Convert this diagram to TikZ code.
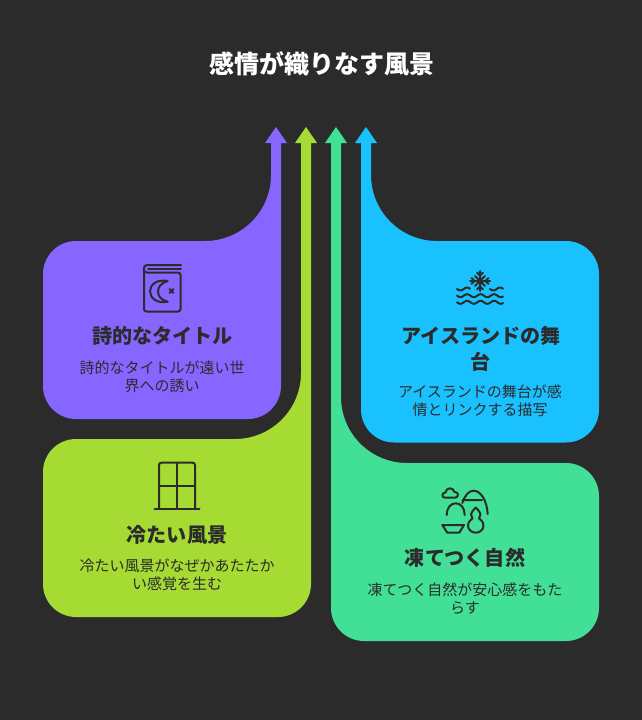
\documentclass[tikz,border=0pt]{standalone}
\usepackage{fontspec}
\usepackage{xcolor}
\setmainfont{Noto Sans CJK JP}
\definecolor{fond}{HTML}{2B2B2B}
\definecolor{violet}{HTML}{8766FF}
\definecolor{citron}{HTML}{A6DB34}
\definecolor{menthe}{HTML}{42E096}
\definecolor{ciel}{HTML}{1AC1FF}
\begin{document}
\begin{tikzpicture}[x=1pt,y=-1pt]
% Styles
\tikzstyle{titre}=[text=white,font=\fontsize{25}{29}\selectfont\bfseries]
\tikzstyle{rubrique}=[text=fond,align=center,inner sep=0pt,font=\fontsize{20.1}{26}\selectfont\bfseries]
\tikzstyle{legende}=[text=fond,align=center,inner sep=0pt,font=\fontsize{15}{18}\selectfont]
\tikzstyle{picto}=[draw=fond,line width=2pt,line cap=round,line join=round]
% Dimensions
\def\Coin{33pt}
\def\Courbe{66pt}
% Fond
\fill[fond] (0,0) rectangle (642,720);
\useasboundingbox (0,0) rectangle (642,720);
% Formes
\fill[violet] (276,127) -- (287,143) -- (281,143) [rounded corners=\Coin] -- (281,419) -- (43,419) -- (43,241) [rounded corners=\Courbe] -- (271,241) [sharp corners] -- (271,143) -- (265,143) -- cycle;
\fill[citron] (306,127) -- (317,143) -- (311,143) [rounded corners=\Coin] -- (311,617) -- (43,617) -- (43,439) [rounded corners=\Courbe] -- (301,439) [sharp corners] -- (301,143) -- (295,143) -- cycle;
\fill[menthe] (336,127) -- (347,143) -- (341,143) [rounded corners=\Courbe] -- (341,463) [rounded corners=\Coin] -- (599,463) -- (599,641) -- (331,641) [sharp corners] -- (331,143) -- (325,143) -- cycle;
\fill[ciel] (366,127) -- (377,143) -- (371,143) [rounded corners=\Courbe] -- (371,241) [rounded corners=\Coin] -- (599,241) -- (599,442.5) -- (361,442.5) [sharp corners] -- (361,143) -- (355,143) -- cycle;
% Textes
\node[titre] (T) at (321.5,64) {感情が織りなす風景};
\node[rubrique] (Va) at (162.5,335.5) {詩的なタイトル};
\node[legende] (Vb) at (162,377) {詩的なタイトルが遠い世\\界への誘い};
\node[rubrique] (Ca) at (177,534.5) {冷たい風景};
\node[legende] (Cb) at (177,575) {冷たい風景がなぜかあたたか\\い感覚を生む};
\node[rubrique] (Ma) at (465,557.5) {凍てつく自然};
\node[legende] (Mb) at (465,599) {凍てつく自然が安心感をもた\\らす};
\node[rubrique] (Sa) at (481,348.5) {アイスランドの舞\\台};
\node[legende] (Sb) at (480,401) {アイスランドの舞台が感\\情とリンクする描写};
% Livre et lune
\draw[picto] (181,265) -- (147,265) .. controls (145,265) and (144,266.5) .. (144,268) -- (144,309) .. controls (144,310.5) and (145,311.5) .. (146.5,311.5) -- (178,311.5) .. controls (179.5,311.5) and (180.5,310.5) .. (180.5,309) -- (180.5,275) .. controls (180.5,273.5) and (179.5,272.5) .. (178,272.5) -- (147,272.5) .. controls (145,272.5) and (144,271) .. (144,270);
\draw[picto] (148,269) -- (181,269);
\draw[picto] (167.7,281) .. controls (156,279) and (150,285) .. (150,291.5) .. controls (150,298) and (157,304) .. (167.7,301.7) .. controls (161,300) and (158,296) .. (158,291.5) .. controls (158,287) and (161,283) .. (167.7,281) -- cycle;
\draw[picto] (169.5,289) -- (173.5,293) (173.5,289) -- (169.5,293);
% Flocon et vagues
\draw[picto] (480,271) -- (480,291) (470,281) -- (490,281) (475,276) -- (485,286) (485,276) -- (475,286);
\draw[picto] (477,272.5) -- (480,275.5) -- (483,272.5) (477,289.5) -- (480,286.5) -- (483,289.5);
\draw[picto] (471.5,278) -- (474.5,281) -- (471.5,284) (488.5,278) -- (485.5,281) -- (488.5,284);
\draw[picto] plot[domain=457:470,samples=20] (\x,{289+1.5*sin(26.7*(\x-457)+0)});
\draw[picto] plot[domain=490:503,samples=20] (\x,{289+1.5*sin(26.7*(\x-490)+0)});
\draw[picto] plot[domain=457:503,samples=60] (\x,{295.7+1.5*sin(26.7*(\x-457))});
\draw[picto] plot[domain=457:503,samples=60] (\x,{302.3+1.5*sin(26.7*(\x-457))});
% Fenetre
\draw[picto] (159,508.5) -- (159,465) .. controls (159,463.5) and (160,462.7) .. (161.5,462.7) -- (192.5,462.7) .. controls (194,462.7) and (195,463.5) .. (195,465) -- (195,508.5);
\draw[picto] (154.5,508.5) -- (199.5,508.5);
\draw[picto] (177,462.7) -- (177,508.5) (159,486) -- (195,486);
% Nuage, montagnes, bol et gourde
\draw[picto] (445,497.7) .. controls (441.5,497.7) and (441.5,492.5) .. (445.5,492.5) .. controls (446,487.5) and (453,486.5) .. (454.5,492) .. controls (459,491.5) and (459,497.7) .. (455,497.7) -- cycle;
\draw[picto] (462.3,503) .. controls (465,495) and (469,490.7) .. (473.5,490.7) .. controls (481,490.7) and (487,501) .. (487.7,514);
\draw[picto] (462.5,500) .. controls (464,498.5) and (465,501.5) .. (467,500) .. controls (469,498.5) and (470,501.5) .. (472,500) .. controls (474,498.5) and (475,501.5) .. (477,500) .. controls (479,498.5) and (480,501.5) .. (482,500);
\draw[picto] (446.7,515) .. controls (446.7,508) and (450.5,503.3) .. (455.7,503.3) .. controls (461,503.3) and (464.7,508) .. (464.7,515);
\draw[picto] (442.3,525) -- (464,525) -- (459.3,532.7) -- (447.3,532.7) -- cycle;
\draw[picto] (475.8,507.5) .. controls (474.5,510) and (471,511) .. (471,514) .. controls (471,516.5) and (472.5,517) .. (472.5,518) .. controls (472.5,519.5) and (468,520.5) .. (468,525.5) .. controls (468,530) and (472,532.7) .. (475.8,532.7) .. controls (479.5,532.7) and (483.5,530) .. (483.5,525.5) .. controls (483.5,520.5) and (479,519.5) .. (479,518) .. controls (479,517) and (480.5,516.5) .. (480.5,514) .. controls (480.5,511) and (477,510) .. (475.8,507.5) -- cycle;
\end{tikzpicture}
\end{document}
